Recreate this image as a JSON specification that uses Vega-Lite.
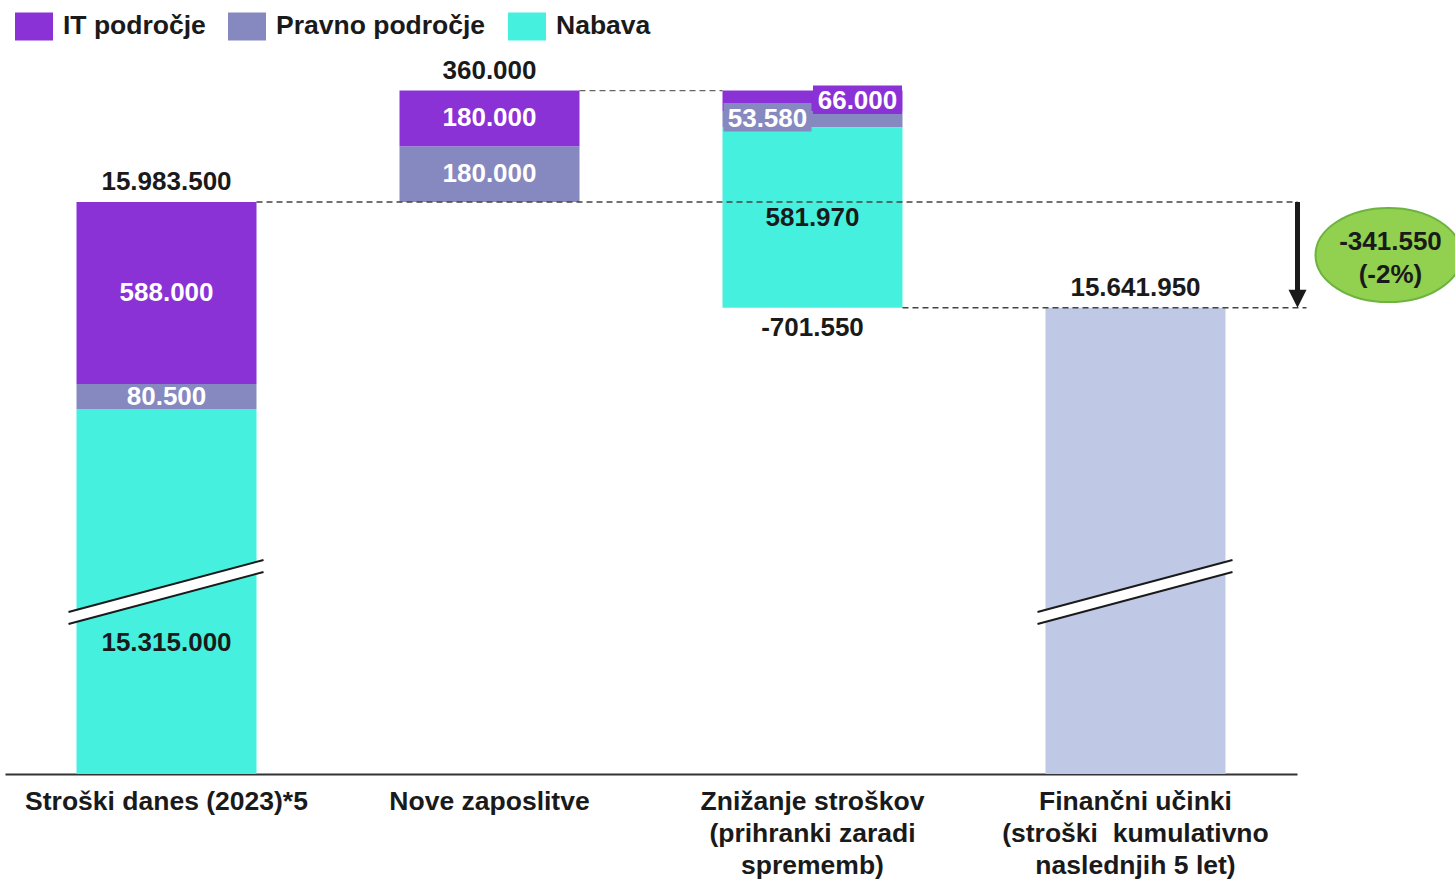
{
  "$schema": "https://vega.github.io/schema/vega-lite/v6.json",
  "width": 1292,
  "height": 724,
  "autosize": {"type": "none"},
  "padding": {"left": 5, "top": 50, "right": 158, "bottom": 105},
  "background": "white",
  "config": {
    "view": {"stroke": null},
    "font": "Liberation Sans",
    "locale": {"number": {"decimal": ",", "thousands": ".", "grouping": [3], "currency": ["", " €"], "minus": "-"}}
  },
  "datasets": {
    "segments": [
      {"step": 1, "cat": "Stroški danes (2023)*5", "series": "Nabava", "start": 0, "end": 15315000, "amount": 15315000},
      {"step": 1, "cat": "Stroški danes (2023)*5", "series": "Pravno področje", "start": 15315000, "end": 15395500, "amount": 80500},
      {"step": 1, "cat": "Stroški danes (2023)*5", "series": "IT področje", "start": 15395500, "end": 15983500, "amount": 588000},
      {"step": 2, "cat": "Nove zaposlitve", "series": "Pravno področje", "start": 15983500, "end": 16163500, "amount": 180000},
      {"step": 2, "cat": "Nove zaposlitve", "series": "IT področje", "start": 16163500, "end": 16343500, "amount": 180000},
      {"step": 3, "cat": "Znižanje stroškov|(prihranki zaradi|sprememb)", "series": "IT področje", "start": 16343500, "end": 16277500, "amount": 66000},
      {"step": 3, "cat": "Znižanje stroškov|(prihranki zaradi|sprememb)", "series": "Pravno področje", "start": 16277500, "end": 16223920, "amount": 53580},
      {"step": 3, "cat": "Znižanje stroškov|(prihranki zaradi|sprememb)", "series": "Nabava", "start": 16223920, "end": 15641950, "amount": 581970},
      {"step": 4, "cat": "Finančni učinki|(stroški\u00a0 kumulativno|naslednjih 5 let)", "series": "Skupaj", "start": 0, "end": 15641950, "amount": 15641950}
    ],
    "totals": [
      {"cat": "Stroški danes (2023)*5", "level": 15983500, "amount": 15983500, "side": "above"},
      {"cat": "Nove zaposlitve", "level": 16343500, "amount": 360000, "side": "above"},
      {"cat": "Znižanje stroškov|(prihranki zaradi|sprememb)", "level": 15641950, "amount": -701550, "side": "below"},
      {"cat": "Finančni učinki|(stroški\u00a0 kumulativno|naslednjih 5 let)", "level": 15641950, "amount": 15641950, "side": "above"}
    ],
    "connectors": [
      {"from": "Stroški danes (2023)*5", "to": "Finančni učinki|(stroški\u00a0 kumulativno|naslednjih 5 let)", "level": 15983500},
      {"from": "Nove zaposlitve", "to": "Znižanje stroškov|(prihranki zaradi|sprememb)", "level": 16343500},
      {"from": "Znižanje stroškov|(prihranki zaradi|sprememb)", "to": "Finančni učinki|(stroški\u00a0 kumulativno|naslednjih 5 let)", "level": 15641950}
    ],
    "change": [
      {"cat": "Finančni učinki|(stroški\u00a0 kumulativno|naslednjih 5 let)", "from": 15983500, "to": 15641950, "note": "-341.550\n(-2%)"}
    ]
  },
  "layer": [
    {
      "data": {"name": "segments"},
      "mark": {"type": "bar"},
      "encoding": {
        "x": {
          "field": "cat", "type": "nominal", "title": null,
          "scale": {"domain": ["Stroški danes (2023)*5", "Nove zaposlitve", "Znižanje stroškov|(prihranki zaradi|sprememb)", "Finančni učinki|(stroški\u00a0 kumulativno|naslednjih 5 let)"], "paddingInner": 0.4427, "paddingOuter": 0.2214},
          "axis": {
            "title": null, "labelAngle": 0, "labelFont": "Liberation Sans", "labelFontSize": 26.5, "labelFontWeight": "bold",
            "labelColor": "#1a1a1a", "labelExpr": "split(datum.label, '|')", "labelLineHeight": 32, "ticks": false, "tickSize": 0,
            "labelPadding": 14, "domainColor": "#333333", "domainWidth": 2, "labelLimit": 500, "labelOverlap": false, "labelFlush": false, "grid": false
          }
        },
        "y": {"field": "start", "type": "quantitative", "title": null, "axis": null, "scale": {"domain": [14136000, 16474500], "clamp": true, "nice": false, "zero": false}},
        "y2": {"field": "end"},
        "color": {
          "field": "series", "type": "nominal",
          "scale": {"domain": ["IT področje", "Pravno področje", "Nabava", "Skupaj"], "range": ["#8A32D6", "#8689C0", "#46F0DE", "#BFC9E6"]},
          "legend": {
            "orient": "none", "legendX": 10, "legendY": -43, "direction": "horizontal", "title": null,
            "values": ["IT področje", "Pravno področje", "Nabava"],
            "symbolType": "M-1,-0.737H1V0.737H-1Z", "symbolSize": 1444, "symbolStrokeWidth": 0, "symbolOpacity": 1,
            "labelFont": "Liberation Sans", "labelFontSize": 26.5, "labelFontWeight": "bold", "labelColor": "#1a1a1a",
            "labelOffset": 10, "columnPadding": 22, "labelLimit": 500
          }
        }
      }
    },
    {
      "data": {"name": "connectors"},
      "transform": [{"filter": "datum.level === 15983500"}],
      "mark": {"type": "rule", "strokeDash": [6, 4], "strokeWidth": 1.3, "color": "#444444", "xOffset": 90, "x2Offset": 162},
      "encoding": {
        "x": {"field": "from", "type": "nominal", "title": null},
        "x2": {"field": "to"},
        "y": {"field": "level", "type": "quantitative", "title": null, "axis": null}
      }
    },
    {
      "data": {"name": "connectors"},
      "transform": [{"filter": "datum.level === 16343500"}],
      "mark": {"type": "rule", "strokeDash": [6, 4], "strokeWidth": 1.3, "color": "#666666", "xOffset": 90, "x2Offset": -90},
      "encoding": {
        "x": {"field": "from", "type": "nominal", "title": null},
        "x2": {"field": "to"},
        "y": {"field": "level", "type": "quantitative", "title": null, "axis": null}
      }
    },
    {
      "data": {"name": "connectors"},
      "transform": [{"filter": "datum.level === 15641950"}],
      "mark": {"type": "rule", "strokeDash": [6, 4], "strokeWidth": 1.3, "color": "#444444", "xOffset": 90, "x2Offset": 171},
      "encoding": {
        "x": {"field": "from", "type": "nominal", "title": null},
        "x2": {"field": "to"},
        "y": {"field": "level", "type": "quantitative", "title": null, "axis": null}
      }
    },
    {
      "data": {"name": "segments"},
      "transform": [{"filter": "datum.start === 0"}],
      "mark": {"type": "rule", "color": "#ffffff", "strokeWidth": 11, "xOffset": -98, "x2Offset": 97, "yOffset": -156, "y2Offset": -208},
      "encoding": {
        "x": {"field": "cat", "type": "nominal", "title": null},
        "x2": {"field": "cat"},
        "y": {"datum": 0, "type": "quantitative", "title": null, "axis": null},
        "y2": {"datum": 0}
      }
    },
    {
      "data": {"name": "segments"},
      "transform": [{"filter": "datum.start === 0"}],
      "mark": {"type": "rule", "color": "#1a1a1a", "strokeWidth": 2, "xOffset": -98, "x2Offset": 97, "yOffset": -162, "y2Offset": -214},
      "encoding": {
        "x": {"field": "cat", "type": "nominal", "title": null},
        "x2": {"field": "cat"},
        "y": {"datum": 0, "type": "quantitative", "title": null, "axis": null},
        "y2": {"datum": 0}
      }
    },
    {
      "data": {"name": "segments"},
      "transform": [{"filter": "datum.start === 0"}],
      "mark": {"type": "rule", "color": "#1a1a1a", "strokeWidth": 2, "xOffset": -98, "x2Offset": 97, "yOffset": -150, "y2Offset": -202},
      "encoding": {
        "x": {"field": "cat", "type": "nominal", "title": null},
        "x2": {"field": "cat"},
        "y": {"datum": 0, "type": "quantitative", "title": null, "axis": null},
        "y2": {"datum": 0}
      }
    },
    {
      "data": {"name": "segments"},
      "transform": [{"filter": "datum.step === 3 && datum.series === 'Pravno področje'"}],
      "mark": {"type": "bar", "fill": "#8689C0", "width": 88, "xOffset": -45, "yOffset": -8, "y2Offset": 4},
      "encoding": {
        "x": {"field": "cat", "type": "nominal", "title": null},
        "y": {"field": "start", "type": "quantitative", "title": null, "axis": null},
        "y2": {"field": "end"}
      }
    },
    {
      "data": {"name": "segments"},
      "transform": [{"filter": "datum.step === 3 && datum.series === 'IT področje'"}],
      "mark": {"type": "bar", "fill": "#8A32D6", "width": 89, "xOffset": 45, "yOffset": -5, "y2Offset": 3},
      "encoding": {
        "x": {"field": "cat", "type": "nominal", "title": null},
        "y": {"field": "start", "type": "quantitative", "title": null, "axis": null},
        "y2": {"field": "end"}
      }
    },
    {
      "data": {"name": "segments"},
      "transform": [
        {"filter": "(datum.step === 1 && datum.series !== 'Nabava') || datum.step === 2 || (datum.step === 3 && datum.series === 'Nabava')"},
        {"fold": ["start", "end"], "as": ["edge", "v"]}
      ],
      "mark": {"type": "text", "font": "Liberation Sans", "fontSize": 26, "fontWeight": "bold", "baseline": "middle", "align": "center"},
      "encoding": {
        "x": {"field": "cat", "type": "nominal", "title": null},
        "y": {"aggregate": "mean", "field": "v", "type": "quantitative", "title": null, "axis": null, "stack": null},
        "detail": {"field": "series", "type": "nominal"},
        "text": {"field": "amount", "type": "quantitative", "format": ",d"},
        "color": {"condition": {"test": "datum.series === 'Nabava'", "value": "#1a1a1a"}, "value": "#ffffff"}
      }
    },
    {
      "data": {"name": "segments"},
      "transform": [
        {"filter": "datum.step === 3 && datum.series === 'Pravno področje'"},
        {"fold": ["start", "end"], "as": ["edge", "v"]}
      ],
      "mark": {"type": "text", "font": "Liberation Sans", "fontSize": 26, "fontWeight": "bold", "baseline": "middle", "align": "center", "xOffset": -45, "color": "#ffffff"},
      "encoding": {
        "x": {"field": "cat", "type": "nominal", "title": null},
        "y": {"aggregate": "mean", "field": "v", "type": "quantitative", "title": null, "axis": null, "stack": null},
        "text": {"field": "amount", "type": "quantitative", "format": ",d"}
      }
    },
    {
      "data": {"name": "segments"},
      "transform": [
        {"filter": "datum.step === 3 && datum.series === 'IT področje'"},
        {"fold": ["start", "end"], "as": ["edge", "v"]}
      ],
      "mark": {"type": "text", "font": "Liberation Sans", "fontSize": 26, "fontWeight": "bold", "baseline": "middle", "align": "center", "xOffset": 45, "color": "#ffffff"},
      "encoding": {
        "x": {"field": "cat", "type": "nominal", "title": null},
        "y": {"aggregate": "mean", "field": "v", "type": "quantitative", "title": null, "axis": null, "stack": null},
        "text": {"field": "amount", "type": "quantitative", "format": ",d"}
      }
    },
    {
      "data": {"name": "segments"},
      "transform": [{"filter": "datum.step === 1 && datum.series === 'Nabava'"}],
      "mark": {"type": "text", "font": "Liberation Sans", "fontSize": 26, "fontWeight": "bold", "baseline": "middle", "align": "center", "dy": 234, "color": "#1a1a1a"},
      "encoding": {
        "x": {"field": "cat", "type": "nominal", "title": null},
        "y": {"field": "end", "type": "quantitative", "title": null, "axis": null},
        "text": {"field": "amount", "type": "quantitative", "format": ",d"}
      }
    },
    {
      "data": {"name": "totals"},
      "transform": [{"filter": "datum.side === 'above'"}],
      "mark": {"type": "text", "font": "Liberation Sans", "fontSize": 26, "fontWeight": "bold", "baseline": "middle", "align": "center", "dy": -20, "color": "#1a1a1a"},
      "encoding": {
        "x": {"field": "cat", "type": "nominal", "title": null},
        "y": {"field": "level", "type": "quantitative", "title": null, "axis": null},
        "text": {"field": "amount", "type": "quantitative", "format": ",d"}
      }
    },
    {
      "data": {"name": "totals"},
      "transform": [{"filter": "datum.side === 'below'"}],
      "mark": {"type": "text", "font": "Liberation Sans", "fontSize": 26, "fontWeight": "bold", "baseline": "middle", "align": "center", "dy": 20, "color": "#1a1a1a"},
      "encoding": {
        "x": {"field": "cat", "type": "nominal", "title": null},
        "y": {"field": "level", "type": "quantitative", "title": null, "axis": null},
        "text": {"field": "amount", "type": "quantitative", "format": ",d"}
      }
    },
    {
      "data": {"name": "change"},
      "mark": {"type": "rule", "color": "#1a1a1a", "strokeWidth": 5, "xOffset": 162, "y2Offset": -14},
      "encoding": {
        "x": {"field": "cat", "type": "nominal", "title": null},
        "y": {"field": "from", "type": "quantitative", "title": null, "axis": null},
        "y2": {"field": "to"}
      }
    },
    {
      "data": {"name": "change"},
      "mark": {"type": "point", "shape": "M-1,-1L1,-1L0,1Z", "size": 324, "filled": true, "fill": "#1a1a1a", "strokeWidth": 0, "opacity": 1, "xOffset": 162, "yOffset": -9},
      "encoding": {
        "x": {"field": "cat", "type": "nominal", "title": null},
        "y": {"field": "to", "type": "quantitative", "title": null, "axis": null}
      }
    },
    {
      "data": {"name": "change"},
      "mark": {"type": "point", "shape": "M-1,0A1,0.645,0,1,1,1,0A1,0.645,0,1,1,-1,0Z", "size": 21316, "filled": true, "fill": "#92D050", "stroke": "#6DB33F", "strokeWidth": 2, "opacity": 1, "xOffset": 253, "yOffset": 53},
      "encoding": {
        "x": {"field": "cat", "type": "nominal", "title": null},
        "y": {"field": "from", "type": "quantitative", "title": null, "axis": null}
      }
    },
    {
      "data": {"name": "change"},
      "mark": {"type": "text", "font": "Liberation Sans", "fontSize": 26, "fontWeight": "bold", "baseline": "middle", "align": "center", "lineBreak": "\n", "lineHeight": 33, "color": "#1a1a1a", "xOffset": 255, "yOffset": 40},
      "encoding": {
        "x": {"field": "cat", "type": "nominal", "title": null},
        "y": {"field": "from", "type": "quantitative", "title": null, "axis": null},
        "text": {"field": "note", "type": "nominal"}
      }
    }
  ]
}
